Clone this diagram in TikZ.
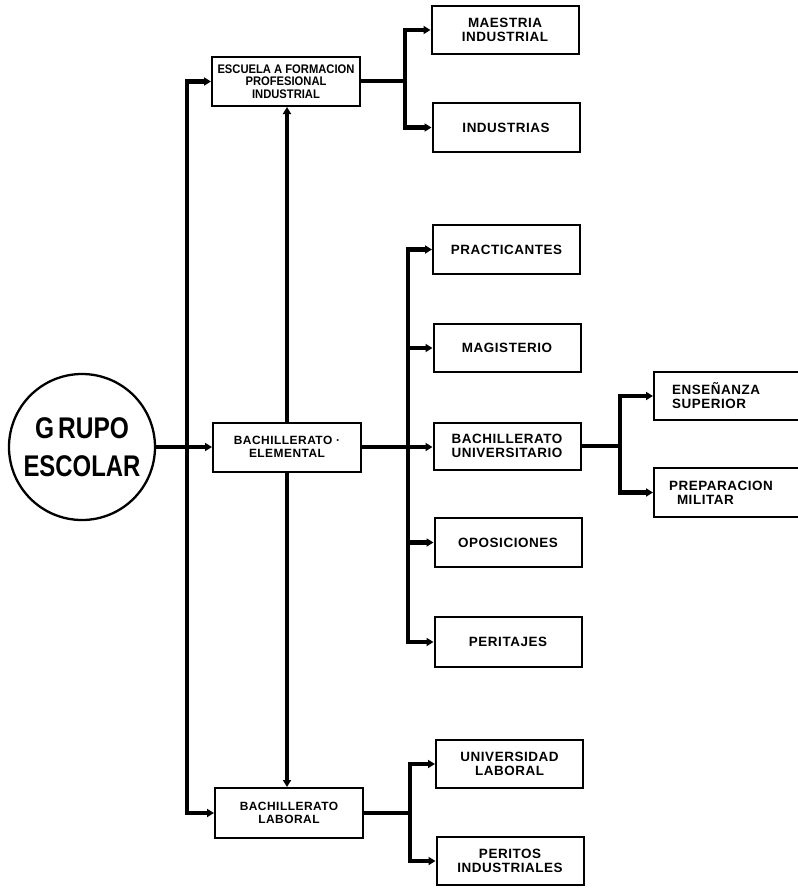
\documentclass[tikz,border=0pt]{standalone}
\usepackage{fontspec}
\setmainfont[LetterSpace=4]{Liberation Sans}
\newfontfamily\tightfont{Liberation Sans}
\usetikzlibrary{arrows.meta}
\tikzset{
  box/.style={draw, line width=2bp, minimum width=147bp, minimum height=48bp, inner sep=1bp, align=center, font=\bfseries\fontsize{13.5}{14}\selectfont},
  midbox/.style={box, font=\bfseries\fontsize{12}{13}\selectfont},
  conn/.style={line width=4.2bp},
  arr/.style={conn, -{Triangle[length=7bp,width=8bp]}},
}
\begin{document}
\begin{tikzpicture}[x=1bp,y=-1bp]
\clip (0,0) rectangle (798,888);
\fill[white] (0,0) rectangle (798,888);
% nodes
\node[draw, circle, line width=2.3bp, minimum size=146bp, inner sep=0pt, align=center,
      font=\tightfont\bfseries\fontsize{30}{38}\selectfont] (grupo) at (82,447)
  {\scalebox{0.82}[1]{G\,RUPO}\\\scalebox{0.8}[1]{ESCOLAR}};
\node[box, minimum width=148bp, minimum height=49bp, font=\tightfont\bfseries\fontsize{12.5}{12.5}\selectfont] (esc) at (286,81.5)
  {\scalebox{0.9}[1]{ESCUELA A FORMACION}\\\scalebox{0.9}[1]{PROFESIONAL}\\\scalebox{0.9}[1]{INDUSTRIAL}};
\node[midbox, minimum width=148bp, minimum height=49bp] (elem) at (287,447) {BACHILLERATO ·\\ELEMENTAL};
\node[midbox, minimum width=148bp, minimum height=50bp] (lab) at (289,813) {BACHILLERATO\\LABORAL};

\node[box] (maes) at (505,30) {MAESTRIA\\INDUSTRIAL};
\node[box, minimum height=49bp] (ind) at (506,127.5) {INDUSTRIAS};

\node[box, minimum height=49bp] (prac) at (506.5,249.5) {PRACTICANTES};
\node[box] (magi) at (507,348) {MAGISTERIO};
\node[box, minimum height=47bp] (buni) at (507,446) {BACHILLERATO\\UNIVERSITARIO};
\node[box, minimum height=49bp] (opos) at (508,542.5) {OPOSICIONES};
\node[box, minimum height=50bp] (peri) at (508,642) {PERITAJES};

\node[box, anchor=west, minimum width=160bp, text width=130bp, align=left] (ense) at (653,396) {\hspace*{3bp}ENSEÑANZA\\\hspace*{3bp}SUPERIOR};
\node[box, anchor=west, minimum width=160bp, minimum height=49bp, text width=130bp, align=left] (prep) at (653,492.5) {PREPARACION\\\hspace*{8bp}MILITAR};

\node[box] (unil) at (509.5,764) {UNIVERSIDAD\\LABORAL};
\node[box] (pind) at (510,861) {PERITOS\\INDUSTRIALES};

% junctions
\coordinate (jl) at (187,447);
\coordinate (jt) at (405,81);
\coordinate (jm) at (408,447);
\coordinate (jb) at (410,813);
\coordinate (jr) at (620,446);

% connectors
\draw[arr] (grupo.east) -- (elem.west);
\draw[arr] (jl) |- (esc.west);
\draw[arr] (jl) |- (lab.west);
\draw[arr] (elem.north) -- (esc.south -| elem.north);
\draw[arr] (elem.south) -- (lab.north -| elem.south);

\draw[conn] (esc.east |- jt) -- (jt);
\draw[arr] (jt) |- (maes.west);
\draw[arr] (jt) |- (ind.west);

\draw[conn] (elem.east |- jm) -- (jm);
\draw[arr] (jm) |- (prac.west);
\draw[arr] (jm) |- (magi.west);
\draw[arr] (jm) -- (buni.west |- jm);
\draw[arr] (jm) |- (opos.west);
\draw[arr] (jm) |- (peri.west);

\draw[conn] (buni.east |- jr) -- (jr);
\draw[arr] (jr) |- (ense.west);
\draw[arr] (jr) |- (prep.west);

\draw[conn] (lab.east |- jb) -- (jb);
\draw[arr] (jb) |- (unil.west);
\draw[arr] (jb) |- (pind.west);
\end{tikzpicture}
\end{document}
